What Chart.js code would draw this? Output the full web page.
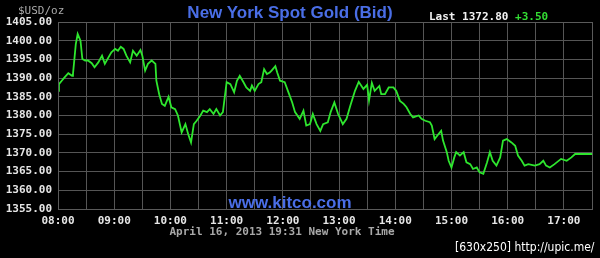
<!DOCTYPE html>
<html>
<head>
<meta charset="utf-8">
<script src="https://cdn.jsdelivr.net/npm/chart.js@4"></script>
<style>
  html, body { margin: 0; padding: 0; background: #000; }
  #wrap { position: relative; width: 600px; height: 258px; background: #000; overflow: hidden; }
  #c { position: absolute; left: 0; top: 0; }
  .t { position: absolute; white-space: nowrap; line-height: 1; }
  .mono { font-family: "DejaVu Sans Mono", monospace; font-size: 11px; font-weight: bold; }
  .blue { font-family: "Liberation Sans", Arial, sans-serif; font-weight: bold; font-size: 17px; color: #4a6ee6; }
</style>
</head>
<body>
<div id="wrap">
  <canvas id="c" width="600" height="258"></canvas>
  <div class="t mono" id="unit" style="left:18px; top:5px; color:#aaaaaa; font-weight:normal;"></div>
  <div class="t blue" id="title" style="left:0; width:580px; top:4px; text-align:center;"></div>
  <div class="t mono" style="left:429px; top:11px; color:#f2f2f2;"><span id="last"></span> <span id="chg" style="color:#33dd33;"></span></div>
  <div class="t blue" id="site" style="left:0; width:580px; top:194px; text-align:center;"></div>
  <div class="t mono" id="stamp" style="left:0; width:564px; top:226px; text-align:center; color:#a8a8a8;"></div>
  <div class="t" id="mark" style="left:455px; top:241px; color:#ffffff; font-family:'DejaVu Sans', sans-serif; font-size:12px; transform-origin:left top; transform:scaleX(0.9);"></div>
</div>
<script>
// ---- data (minutes after 08:00 New York time, bid price USD/oz) ----
const times = [0,1,4,7,11,15,16,19,21,24,26,29,32,36,39,43,47,50,54,57,61,64,67,70,73,77,80,84,88,90,93,96,100,104,105,108,111,114,118,121,125,128,132,136,139,142,145,148,152,155,159,162,166,169,173,176,178,180,184,188,191,194,198,201,205,207,210,214,217,220,223,226,228,232,234,237,242,246,250,253,258,262,265,269,272,276,280,283,288,291,295,299,304,308,312,317,321,326,330,332,335,338,343,345,349,353,358,361,365,369,372,376,379,385,388,392,397,399,402,406,409,411,415,417,420,423,425,429,433,436,440,443,447,450,454,458,461,464,468,472,475,479,484,488,491,495,498,502,509,514,518,521,525,530,537,543,548,552,557,570];
const prices = [1386.6,1388.4,1389.3,1390.2,1391.3,1390.6,1391.1,1399.1,1401.8,1400.0,1395.1,1394.7,1394.7,1394.0,1392.9,1394.2,1396.0,1393.8,1395.6,1396.9,1397.8,1397.3,1398.4,1397.8,1396.0,1394.2,1397.3,1396.0,1397.5,1396.0,1392.0,1393.8,1394.7,1393.8,1389.3,1385.7,1383.1,1382.6,1385.0,1382.2,1381.7,1380.0,1375.5,1377.7,1375.0,1372.8,1377.7,1378.6,1380.0,1381.3,1380.9,1381.7,1380.4,1381.7,1380.0,1380.9,1384.9,1388.9,1388.4,1386.2,1389.3,1390.6,1388.9,1387.5,1386.6,1388.0,1386.6,1388.4,1388.9,1392.4,1391.1,1391.5,1392.0,1393.2,1391.5,1389.3,1388.9,1386.2,1383.5,1380.9,1379.1,1381.3,1377.3,1377.7,1380.4,1377.7,1375.9,1377.7,1378.2,1380.9,1383.5,1380.4,1377.7,1379.1,1382.6,1386.6,1389.0,1387.1,1388.2,1384.0,1388.7,1386.6,1387.9,1385.7,1385.7,1387.5,1387.5,1386.6,1383.9,1383.1,1382.2,1380.4,1379.5,1380.0,1379.1,1378.6,1378.2,1377.3,1373.7,1375.0,1375.9,1373.3,1370.2,1367.9,1366.1,1368.8,1370.2,1369.3,1370.2,1367.5,1367.0,1365.7,1366.1,1364.8,1364.4,1367.5,1370.2,1367.9,1366.6,1368.8,1373.3,1373.7,1372.8,1371.9,1369.3,1367.9,1366.6,1367.0,1366.6,1367.0,1367.9,1366.6,1366.1,1367.0,1368.4,1367.9,1368.8,1369.7,1369.7,1369.7];
const hourLabels = ['08:00','09:00','10:00','11:00','12:00','13:00','14:00','15:00','16:00','17:00'];
const yMin = 1355, yMax = 1405, yStep = 5;
const xMax = 570, xStep = 30;
const titleText = 'New York Spot Gold (Bid)';
const unitText = '$USD/oz';
const lastText = 'Last 1372.80';
const changeText = '+3.50';
const siteText = 'www.kitco.com';
const stampText = 'April 16, 2013 19:31 New York Time';
const markText = '[630x250] http://upic.me/';

document.getElementById('title').textContent = titleText;
document.getElementById('unit').textContent = unitText;
document.getElementById('last').textContent = lastText;
document.getElementById('chg').textContent = changeText;
document.getElementById('site').textContent = siteText;
document.getElementById('stamp').textContent = stampText;
document.getElementById('mark').textContent = markText;

const points = times.map((t, i) => ({ x: t, y: prices[i] }));

const frame = {
  id: 'frame',
  afterDatasetsDraw(chart) {
    const a = chart.chartArea, ctx = chart.ctx;
    ctx.save();
    ctx.strokeStyle = '#5a5a5a';
    ctx.lineWidth = 1;
    ctx.strokeRect(Math.round(a.left) + 0.5, Math.round(a.top) + 0.5, Math.round(a.right - a.left), Math.round(a.bottom - a.top));
    ctx.restore();
  }
};

new Chart(document.getElementById('c'), {
  type: 'line',
  data: {
    datasets: [{
      data: points,
      borderColor: '#2ee62e',
      borderWidth: 1.8,
      pointRadius: 0,
      tension: 0,
      fill: false
    }]
  },
  options: {
    responsive: false,
    animation: false,
    devicePixelRatio: 1,
    layout: { padding: { left: 0, top: 22, right: 8, bottom: 0 } },
    plugins: { legend: { display: false }, tooltip: { enabled: false } },
    scales: {
      x: {
        type: 'linear',
        min: 0, max: xMax,
        afterFit(s) { s.height = 49; },
        grid: { color: '#555555', drawTicks: false },
        border: { display: false },
        ticks: {
          stepSize: xStep,
          autoSkip: false,
          maxRotation: 0,
          padding: 6,
          color: '#e6e6e6',
          font: { family: 'DejaVu Sans Mono', size: 11, weight: 'bold' },
          callback: (v) => (v % 60 === 0 ? hourLabels[v / 60] : '')
        }
      },
      y: {
        min: yMin, max: yMax,
        afterFit(s) { s.width = 58; },
        grid: { color: '#555555', drawTicks: false },
        border: { display: false },
        ticks: {
          stepSize: yStep,
          autoSkip: false,
          padding: 6,
          color: '#e6e6e6',
          font: { family: 'DejaVu Sans Mono', size: 11, weight: 'bold' },
          callback: (v) => v.toFixed(2)
        }
      }
    }
  },
  plugins: [frame]
});
</script>
</body>
</html>
